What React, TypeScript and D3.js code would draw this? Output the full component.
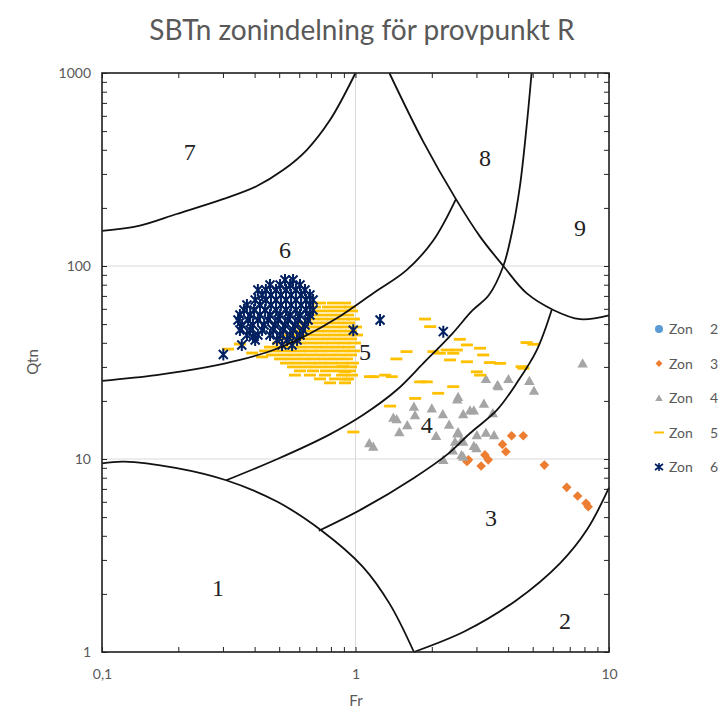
import React, { useEffect, useRef } from "react";
import * as d3 from "d3";

const title = "SBTn zonindelning för provpunkt R";

const xTicks = [0.1, 1, 10];
const xTickLabels = ["0,1", "1", "10"];
const yTicks = [1, 10, 100, 1000];
const yTickLabels = ["1", "10", "100", "1000"];

// zone boundaries, [Fr, Qtn]
const line7 = [[0.1, 152], [0.141, 162], [0.197, 186], [0.3, 222], [0.407, 259], [0.518, 314], [0.642, 399], [0.793, 570], [1.0, 1000]];
const line6 = [[0.1, 25.4], [0.164, 27.2], [0.259, 29.9], [0.35, 32.6], [0.474, 36.7], [0.642, 43.8], [0.843, 53.6], [1.175, 72.3], [1.59, 95.2], [2.03, 136], [2.49, 222]];
const line89 = [[1.36, 1000], [1.85, 441], [2.49, 222], [3.1, 142], [3.83, 100], [4.73, 72.3], [6.03, 59.2], [7.69, 53.0], [10, 55.5]];
const line45 = [[0.309, 7.76], [0.492, 10.0], [0.782, 13.3], [1.07, 16.9], [1.45, 22.7], [1.85, 31.3], [2.4, 44.4], [2.88, 58.5], [3.36, 70.7], [3.83, 100], [4.13, 147], [4.45, 258], [4.73, 527], [4.95, 1000]];
const line34 = [[0.717, 4.25], [1.067, 5.53], [1.7, 7.98], [2.31, 10.6], [2.83, 13.6], [3.61, 17.9], [4.32, 24.7], [5.19, 36.7], [5.94, 59.2]];
const line1 = [[0.1, 9.5], [0.122, 9.7], [0.195, 9.0], [0.309, 7.76], [0.492, 6.0], [0.736, 4.25], [1.067, 2.77], [1.366, 1.77], [1.7, 1.0]];
const line23 = [[1.7, 1.0], [2.7, 1.28], [4.3, 1.85], [6.42, 2.89], [8.22, 4.34], [10, 7.1]];
const boundaries = [line7, line6, line89, line45, line34, line1, line23];

const zoneNames = ["1", "2", "3", "4", "5", "6", "7", "8", "9"];
const zoneNameAt = [[0.287, 2.15], [6.7, 1.45], [3.42, 4.94], [1.91, 15.0], [1.09, 35.8], [0.527, 121], [0.222, 390], [3.24, 363], [7.69, 157]];

// measured points, [Fr, Qtn]
const zone2: number[][] = [];
const zone3 = [[4.13, 13.2], [4.59, 13.2], [3.8, 11.9], [3.92, 10.9], [3.24, 10.5], [3.34, 9.9], [2.79, 9.9], [2.75, 9.7], [3.13, 9.2], [5.56, 9.3], [6.81, 7.13], [7.52, 6.43], [8.12, 5.89], [8.28, 5.66]];
const zone4 = [[3.27, 26.0], [4.01, 26.0], [4.85, 25.4], [5.06, 22.6], [3.63, 24.2], [3.66, 23.9], [2.54, 21.0], [2.52, 20.4], [1.7, 18.7], [2.0, 18.3], [1.717, 16.9], [1.41, 16.4], [1.454, 16.1], [1.6, 15.0], [1.489, 13.8], [2.21, 17.1], [2.34, 15.1], [2.66, 17.1], [2.83, 17.9], [2.93, 17.9], [3.21, 19.4], [3.48, 17.3], [3.27, 13.7], [3.01, 13.3], [3.52, 13.3], [2.52, 13.6], [2.08, 13.2], [1.133, 12.1], [1.175, 11.6], [2.47, 12.3], [2.62, 12.5], [2.93, 11.7], [3.0, 11.4], [2.42, 11.1], [2.62, 10.5], [2.22, 9.9], [2.66, 10.3], [7.87, 31.3], [2.66, 12.3], [2.54, 13.8]];
const zone5 = [
  [0.724, 64.3], [0.815, 64.3], [0.909, 64.3],
  [0.692, 61.3], [0.779, 61.3], [0.869, 61.3], [0.951, 61.3],
  [0.711, 58.5], [0.793, 58.5], [0.885, 58.5], [0.969, 58.5],
  [0.68, 55.7], [0.758, 55.7], [0.845, 55.7], [0.934, 55.7],
  [0.661, 53.1], [0.738, 53.1], [0.815, 53.1], [0.901, 53.1], [0.986, 53.1],
  [0.632, 50.7], [0.699, 50.7], [0.772, 50.7], [0.853, 50.7], [0.943, 50.7],
  [0.604, 48.3], [0.674, 48.3], [0.744, 48.3], [0.823, 48.3], [0.909, 48.3], [1.005, 48.3],
  [0.577, 46.0], [0.638, 46.0], [0.711, 46.0], [0.786, 46.0], [0.869, 46.0], [0.96, 46.0],
  [0.552, 43.9], [0.61, 43.9], [0.674, 43.9], [0.751, 43.9], [0.83, 43.9], [0.917, 43.9], [1.014, 43.9],
  [0.518, 41.9], [0.577, 41.9], [0.638, 41.9], [0.711, 41.9], [0.786, 41.9], [0.869, 41.9], [0.96, 41.9],
  [0.495, 39.9], [0.547, 39.9], [0.604, 39.9], [0.668, 39.9], [0.738, 39.9], [0.815, 39.9], [0.901, 39.9], [0.995, 39.9],
  [0.46, 38.0], [0.513, 38.0], [0.567, 38.0], [0.626, 38.0], [0.699, 38.0], [0.772, 38.0], [0.853, 38.0], [0.943, 38.0],
  [0.44, 36.3], [0.486, 36.3], [0.542, 36.3], [0.599, 36.3], [0.661, 36.3], [0.731, 36.3], [0.808, 36.3], [0.893, 36.3], [0.986, 36.3],
  [0.469, 34.6], [0.522, 34.6], [0.577, 34.6], [0.638, 34.6], [0.711, 34.6], [0.786, 34.6], [0.869, 34.6], [0.96, 34.6],
  [0.504, 33.0], [0.557, 33.0], [0.621, 33.0], [0.686, 33.0], [0.758, 33.0], [0.838, 33.0], [0.926, 33.0],
  [0.532, 31.4], [0.588, 31.4], [0.656, 31.4], [0.724, 31.4], [0.8, 31.4], [0.885, 31.4], [0.977, 31.4],
  [0.567, 30.0], [0.632, 30.0], [0.699, 30.0], [0.779, 30.0], [0.869, 30.0], [0.96, 30.0],
  [0.604, 28.6], [0.68, 28.6], [0.765, 28.6], [0.853, 28.6], [0.951, 28.6],
  [0.577, 27.2], [0.661, 27.2], [0.758, 27.2], [0.885, 27.2], [0.969, 27.2],
  [0.724, 26.0], [0.83, 26.0], [0.934, 26.0],
  [0.793, 24.8], [0.909, 24.8],
  [0.314, 37.1], [0.35, 39.4], [0.391, 35.4], [0.428, 33.8],
  [1.88, 53.1], [1.97, 48.5], [2.58, 41.7], [2.75, 39.0], [4.73, 40.1], [5.03, 39.3], [1.59, 36.0], [2.03, 36.0],
  [1.45, 33.0], [2.15, 35.3], [2.51, 36.7], [3.1, 37.5], [3.19, 34.6], [2.36, 32.6], [2.75, 31.9], [3.39, 31.6],
  [3.72, 31.3], [3.01, 28.3], [3.1, 27.2], [4.59, 29.5], [1.14, 26.7], [1.31, 27.2], [1.39, 26.7], [0.92, 25.9],
  [1.91, 25.1], [2.43, 23.7], [2.12, 21.9], [1.72, 20.6], [1.37, 18.8], [0.98, 13.8], [1.8, 25.1], [4.52, 30.1],
  [2.29, 36.7], [2.43, 35.3], [1.175, 26.7], [0.893, 30.1], [0.909, 28.3],
];
const zone6 = [
  [0.527, 84.6], [0.567, 84.6],
  [0.46, 79.7], [0.504, 79.7], [0.552, 79.7], [0.604, 79.7],
  [0.412, 75.1], [0.443, 75.1], [0.486, 75.1], [0.532, 75.1], [0.582, 75.1], [0.632, 75.1],
  [0.428, 70.7], [0.464, 70.7], [0.508, 70.7], [0.557, 70.7], [0.61, 70.7], [0.661, 70.7],
  [0.402, 66.6], [0.443, 66.6], [0.486, 66.6], [0.532, 66.6], [0.582, 66.6], [0.638, 66.6], [0.68, 66.6],
  [0.373, 62.8], [0.42, 62.8], [0.464, 62.8], [0.508, 62.8], [0.557, 62.8], [0.61, 62.8], [0.661, 62.8],
  [0.363, 59.2], [0.398, 59.2], [0.44, 59.2], [0.486, 59.2], [0.532, 59.2], [0.582, 59.2], [0.638, 59.2], [0.68, 59.2],
  [0.35, 55.7], [0.384, 55.7], [0.42, 55.7], [0.46, 55.7], [0.504, 55.7], [0.552, 55.7], [0.604, 55.7], [0.661, 55.7],
  [0.344, 52.5], [0.377, 52.5], [0.412, 52.5], [0.452, 52.5], [0.495, 52.5], [0.542, 52.5], [0.593, 52.5], [0.65, 52.5],
  [0.357, 49.5], [0.394, 49.5], [0.436, 49.5], [0.481, 49.5], [0.527, 49.5], [0.577, 49.5], [0.632, 49.5],
  [0.35, 46.6], [0.384, 46.6], [0.428, 46.6], [0.473, 46.6], [0.518, 46.6], [0.567, 46.6], [0.621, 46.6],
  [0.373, 43.9], [0.412, 43.9], [0.46, 43.9], [0.504, 43.9], [0.552, 43.9], [0.604, 43.9],
  [0.402, 41.4], [0.49, 41.4], [0.537, 41.4], [0.588, 41.4],
  [0.513, 39.0], [0.562, 39.0],
  [0.301, 34.8], [0.356, 39.0], [0.394, 42.9], [0.98, 46.5], [1.25, 52.5], [2.22, 45.7],
];

const legendZones = ["2", "3", "4", "5", "6"];

const W = 723;
const H = 720;

const starPath = "M-4.5,-4.5L4.5,4.5M-4.5,4.5L4.5,-4.5M0,-6L0,6";
const diamondPath = "M0,-4.8L4.8,0L0,4.8L-4.8,0Z";
const trianglePath = "M0,-5L5.2,4.2L-5.2,4.2Z";

const App = () => {
  const ref = useRef<SVGSVGElement>(null);

  useEffect(() => {
    const svg = d3.select(ref.current);
    svg.selectAll("*").remove();

    const x = d3.scaleLog().domain([0.1, 10]).range([102, 609]);
    const y = d3.scaleLog().domain([1, 1000]).range([652, 73]);
    const font = "Lato, 'Open Sans', sans-serif";

    svg.append("rect").attr("width", W).attr("height", H).attr("fill", "#fff");

    svg
      .append("text")
      .attr("x", 362)
      .attr("y", 40)
      .attr("text-anchor", "middle")
      .attr("font-family", font)
      .attr("font-size", 28)
      .attr("fill", "#595959")
      .text(title);

    // gridlines
    svg
      .append("g")
      .selectAll("line")
      .data(xTicks)
      .enter()
      .append("line")
      .attr("x1", (d) => x(d))
      .attr("x2", (d) => x(d))
      .attr("y1", 73)
      .attr("y2", 652)
      .attr("stroke", "#d9d9d9");
    svg
      .append("g")
      .selectAll("line")
      .data(yTicks)
      .enter()
      .append("line")
      .attr("x1", 102)
      .attr("x2", 609)
      .attr("y1", (d) => y(d))
      .attr("y2", (d) => y(d))
      .attr("stroke", "#d9d9d9");

    // markers
    const plot = svg.append("g");
    plot
      .selectAll("path.z3")
      .data(zone3)
      .enter()
      .append("path")
      .attr("d", diamondPath)
      .attr("fill", "#ED7D31")
      .attr("transform", (d) => `translate(${x(d[0])},${y(d[1])})`);
    plot
      .selectAll("path.z4")
      .data(zone4)
      .enter()
      .append("path")
      .attr("d", trianglePath)
      .attr("fill", "#A5A5A5")
      .attr("transform", (d) => `translate(${x(d[0])},${y(d[1])})`);
    plot
      .selectAll("rect.z5")
      .data(zone5)
      .enter()
      .append("rect")
      .attr("x", (d) => x(d[0]) - 6)
      .attr("y", (d) => y(d[1]) - 1.4)
      .attr("width", 12)
      .attr("height", 2.8)
      .attr("fill", "#FFC000");
    plot
      .selectAll("path.z6")
      .data(zone6)
      .enter()
      .append("path")
      .attr("d", starPath)
      .attr("fill", "none")
      .attr("stroke", "#002060")
      .attr("stroke-width", 2)
      .attr("transform", (d) => `translate(${x(d[0])},${y(d[1])})`);

    // zone boundaries
    const line = d3
      .line<number[]>()
      .x((d) => x(d[0]))
      .y((d) => y(d[1]))
      .curve(d3.curveCatmullRom.alpha(0.5));
    svg
      .append("g")
      .selectAll("path")
      .data(boundaries)
      .enter()
      .append("path")
      .attr("d", (d) => line(d))
      .attr("fill", "none")
      .attr("stroke", "#111")
      .attr("stroke-width", 1.8);

    svg
      .append("g")
      .selectAll("text")
      .data(zoneNames)
      .enter()
      .append("text")
      .attr("x", (d, i) => x(zoneNameAt[i][0]))
      .attr("y", (d, i) => y(zoneNameAt[i][1]) + 8)
      .attr("text-anchor", "middle")
      .attr("font-family", "'Liberation Serif', 'DejaVu Serif', serif")
      .attr("font-size", 24)
      .attr("fill", "#222")
      .text((d) => d);

    // frame ticks
    const minor = (g: any) => g.call((s: any) => s.select(".domain").remove()).selectAll("line").attr("stroke", "#222");
    svg.append("g").attr("transform", "translate(0,652)").call(d3.axisBottom(x).tickValues(x.ticks()).tickSize(-5).tickFormat(() => "")).call(minor);
    svg.append("g").attr("transform", "translate(0,73)").call(d3.axisTop(x).tickValues(x.ticks()).tickSize(-5).tickFormat(() => "")).call(minor);
    svg.append("g").attr("transform", "translate(102,0)").call(d3.axisLeft(y).tickValues(y.ticks()).tickSize(-5).tickFormat(() => "")).call(minor);
    svg.append("g").attr("transform", "translate(609,0)").call(d3.axisRight(y).tickValues(y.ticks()).tickSize(-5).tickFormat(() => "")).call(minor);

    svg
      .append("rect")
      .attr("x", 102)
      .attr("y", 73)
      .attr("width", 507)
      .attr("height", 579)
      .attr("fill", "none")
      .attr("stroke", "#222")
      .attr("stroke-width", 1.6);

    // labelled axes
    const xAxis = svg
      .append("g")
      .attr("transform", "translate(0,652)")
      .call(d3.axisBottom(x).tickValues(xTicks).tickSize(0).tickPadding(17).tickFormat((d, i) => xTickLabels[i]));
    const yAxis = svg
      .append("g")
      .attr("transform", "translate(102,0)")
      .call(d3.axisLeft(y).tickValues(yTicks).tickSize(0).tickPadding(11).tickFormat((d, i) => yTickLabels[i]));
    [xAxis, yAxis].forEach((a) => {
      a.select(".domain").remove();
      a.selectAll("text").attr("font-family", font).attr("font-size", 14).attr("fill", "#595959");
    });

    svg
      .append("text")
      .attr("x", 356)
      .attr("y", 706)
      .attr("text-anchor", "middle")
      .attr("font-family", font)
      .attr("font-size", 15)
      .attr("fill", "#595959")
      .text("Fr");
    svg
      .append("text")
      .attr("transform", "translate(38,362) rotate(-90)")
      .attr("text-anchor", "middle")
      .attr("font-family", font)
      .attr("font-size", 15)
      .attr("fill", "#595959")
      .text("Qtn");

    // legend
    const legend = svg
      .append("g")
      .selectAll("g")
      .data(legendZones)
      .enter()
      .append("g")
      .attr("transform", (d, i) => `translate(659,${329 + i * 34.5})`);
    legend
      .append("text")
      .attr("x", 10)
      .attr("y", 5)
      .attr("font-family", font)
      .attr("font-size", 14)
      .attr("fill", "#595959")
      .text("Zon");
    legend
      .append("text")
      .attr("x", 51)
      .attr("y", 5)
      .attr("font-family", font)
      .attr("font-size", 14)
      .attr("fill", "#595959")
      .text((d) => d);
    legend.each(function (d, i) {
      const g = d3.select(this);
      if (i === 0) g.append("circle").attr("r", 4).attr("fill", "#5B9BD5");
      if (i === 1) g.append("path").attr("d", "M0,-3.5L3.5,0L0,3.5L-3.5,0Z").attr("fill", "#ED7D31");
      if (i === 2) g.append("path").attr("d", "M0,-3.5L3.8,3L-3.8,3Z").attr("fill", "#A5A5A5");
      if (i === 3) g.append("rect").attr("x", -5).attr("y", -1).attr("width", 10).attr("height", 2).attr("fill", "#FFC000");
      if (i === 4) g.append("path").attr("d", "M-4,-3L4,3M-4,3L4,-3M0,-4L0,4").attr("stroke", "#002060").attr("stroke-width", 1.6);
    });
  }, []);

  return (
    <svg
      ref={ref}
      width={W}
      height={H}
      style={{ position: "absolute", left: 0, top: 0, display: "block" }}
    />
  );
};

export default App;
